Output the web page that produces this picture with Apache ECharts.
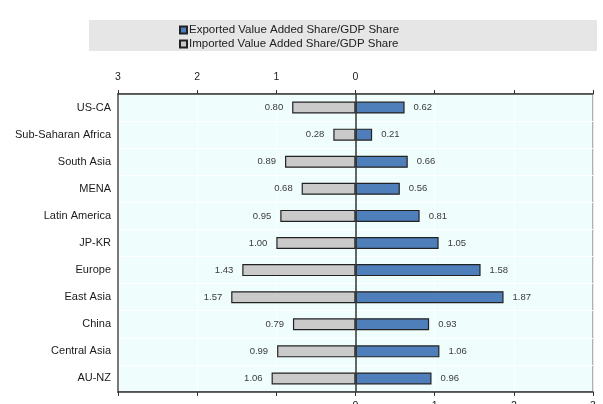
<!DOCTYPE html>
<html>
<head>
<meta charset="utf-8">
<style>
  html, body { margin: 0; padding: 0; background: #ffffff; }
  #chart { width: 603px; height: 404px; }
</style>
<script src="https://cdn.jsdelivr.net/npm/echarts@6/dist/echarts.min.js"></script>
</head>
<body>
<div id="chart"></div>
<script>
// Regions, top to bottom
const regions = [
  'US-CA', 'Sub-Saharan Africa', 'South Asia', 'MENA', 'Latin America',
  'JP-KR', 'Europe', 'East Asia', 'China', 'Central Asia', 'AU-NZ'
];
// Exported value added share / GDP share
const exportedShare = [0.62, 0.21, 0.66, 0.56, 0.81, 1.05, 1.58, 1.87, 0.93, 1.06, 0.96];
// Imported value added share / GDP share (drawn to the left of zero)
const importedShare = [0.80, 0.28, 0.89, 0.68, 0.95, 1.00, 1.43, 1.57, 0.79, 0.99, 1.06];
// Axis extent
const axisMin = -3;
const axisMax = 3;

const fontFamily = 'Liberation Sans, Arial, sans-serif';
const chart = echarts.init(document.getElementById('chart'), null, { renderer: 'canvas' });

const valueLabel = (p) => Math.abs(p.value).toFixed(2);

const baseX = {
  type: 'value',
  min: axisMin,
  max: axisMax,
  interval: 1,
  axisLine: { show: true, lineStyle: { color: '#333333', width: 1.5 } },
  axisTick: { show: true, length: 4, lineStyle: { color: '#333333', width: 1 } },
  splitLine: { show: true, lineStyle: { color: '#ffffff', width: 1, opacity: 0.7 } }
};

chart.setOption({
  animation: false,
  textStyle: { fontFamily },
  graphic: [{
    type: 'rect',
    z: -1,
    shape: { x: 89, y: 20, width: 508, height: 31 },
    style: { fill: '#e6e6e6' }
  }],
  legend: {
    orient: 'vertical',
    left: 179,
    top: 24,
    itemWidth: 7,
    itemHeight: 7,
    itemGap: 2,
    icon: 'rect',
    padding: 0,
    textStyle: { fontSize: 11.5, color: '#222222', fontFamily, padding: [0, 0, 0, -3] },
    data: ['Exported Value Added Share/GDP Share', 'Imported Value Added Share/GDP Share']
  },
  grid: {
    left: 118,
    right: 10,
    top: 94,
    bottom: 12,
    outerBoundsMode: 'none',
    containLabel: false,
    show: true,
    backgroundColor: '#f0fdfd',
    borderColor: '#666666',
    borderWidth: 1
  },
  xAxis: [
    Object.assign({}, baseX, {
      position: 'top',
      axisLabel: {
        margin: 11,
        fontSize: 10.5,
        color: '#222222',
        formatter: (v) => (v <= 0 ? String(Math.abs(v)) : '')
      }
    }),
    Object.assign({}, baseX, {
      position: 'bottom',
      splitLine: { show: false },
      axisLabel: {
        margin: 9,
        fontSize: 10.5,
        color: '#222222',
        formatter: (v) => (v >= 0 ? String(v) : '')
      }
    })
  ],
  yAxis: {
    type: 'category',
    inverse: true,
    data: regions,
    axisLine: { show: true, onZero: false, lineStyle: { color: '#7a7a7a', width: 2 } },
    axisTick: { show: false },
    splitLine: { show: true, lineStyle: { color: '#ffffff', width: 1 } },
    axisLabel: { margin: 7, fontSize: 11, color: '#1a1a1a' }
  },
  series: [
    {
      name: 'Exported Value Added Share/GDP Share',
      type: 'bar',
      stack: 'share',
      xAxisIndex: 0,
      barWidth: 12,
      data: exportedShare,
      itemStyle: { color: '#4f7fbb', borderColor: '#222222', borderWidth: 1.2 },
      label: {
        show: true,
        position: 'right',
        distance: 9,
        fontSize: 9.5,
        color: '#3a3a3a',
        formatter: valueLabel
      },
      markLine: {
        silent: true,
        symbol: 'none',
        label: { show: false },
        lineStyle: { color: '#333333', width: 1.5, type: 'solid' },
        data: [{ xAxis: 0 }],
        z: 10
      }
    },
    {
      name: 'Imported Value Added Share/GDP Share',
      type: 'bar',
      stack: 'share',
      xAxisIndex: 0,
      barWidth: 12,
      data: importedShare.map((v) => -v),
      itemStyle: { color: '#cacaca', borderColor: '#222222', borderWidth: 1.2 },
      label: {
        show: true,
        position: 'left',
        distance: 9,
        fontSize: 9.5,
        color: '#3a3a3a',
        formatter: valueLabel
      }
    }
  ]
});
</script>
</body>
</html>
